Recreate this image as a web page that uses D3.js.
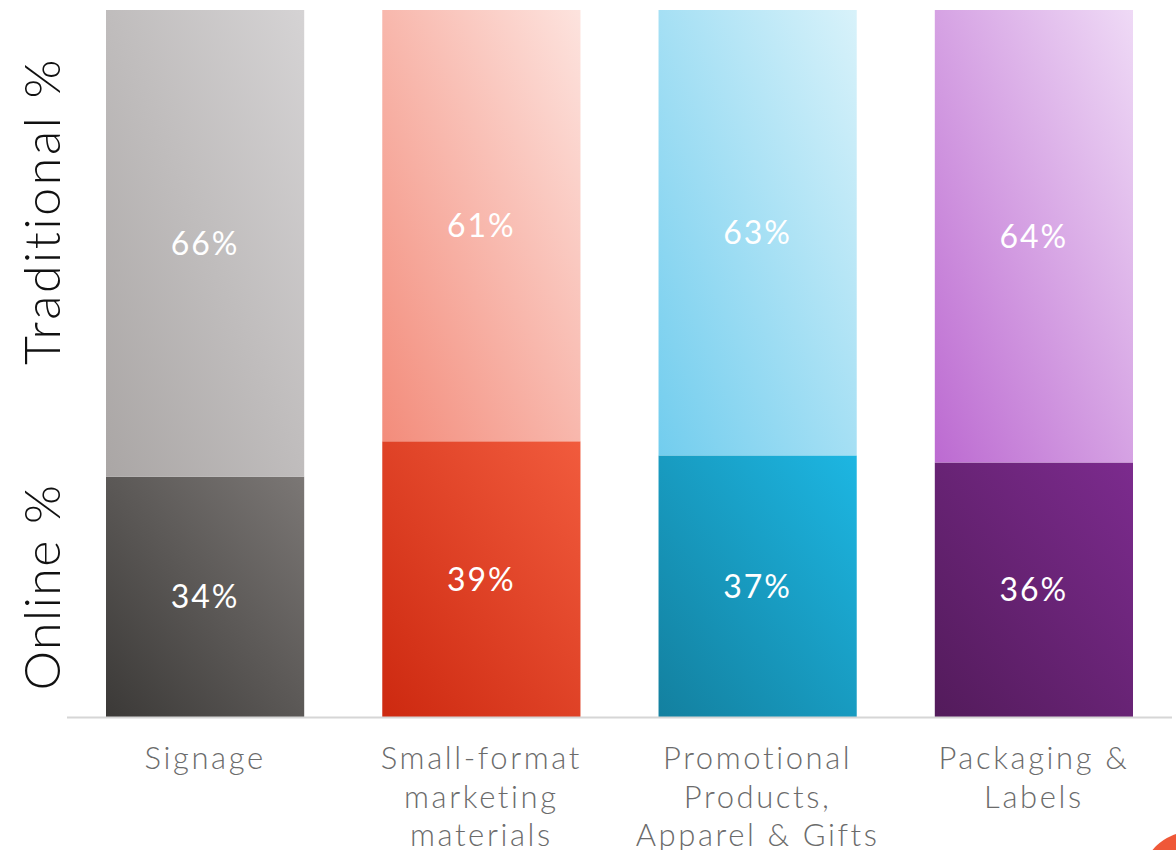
<!DOCTYPE html>
<html lang='en'>
<head>
  <meta charset='UTF-8'>
  <title>Online vs Traditional</title>
  <script src='https://d3js.org/d3.v7.min.js'></script>
  <style>
    body { margin: 0; background: #fff; }
    svg { display: block; font-family: 'Lato', 'Open Sans', sans-serif; }
  </style>
</head>
<body>
<svg width='1176' height='850'></svg>
<script>
  // data
  const categories = ['Signage', 'Small-format', 'Promotional', 'Packaging']
  const categoryLines = [
    ['Signage'],
    ['Small-format', 'marketing', 'materials'],
    ['Promotional', 'Products,', 'Apparel & Gifts'],
    ['Packaging &', 'Labels']
  ]
  const online = [34, 39, 37, 36]
  const traditional = [66, 61, 63, 64]
  const seriesNames = ['Online %', 'Traditional %']

  // gradient stops: [bottom-left, top-right]
  const onlineColors = [['#3b3937', '#7b7775'], ['#cd2910', '#f15b3d'], ['#13809f', '#1db6e2'], ['#531b5b', '#7c2b8e']]
  const tradColors = [['#aaa6a5', '#d5d3d4'], ['#f38c7b', '#fde3de'], ['#72cdee', '#d8f2fa'], ['#bc6ad1', '#efdaf6']]

  const svg = d3.select('svg')
  const defs = svg.append('defs')

  const x = d3.scaleBand().domain(categories).range([106, 1133]).paddingInner(0.2826).paddingOuter(0)
  const y = d3.scaleLinear().domain([0, 100]).range([717, 10])

  function grad(id, cols) {
    let g = defs.append('linearGradient').attr('id', id)
      .attr('x1', 0).attr('y1', 1).attr('x2', 1).attr('y2', 0)
    g.append('stop').attr('offset', '0%').attr('stop-color', cols[0])
    g.append('stop').attr('offset', '100%').attr('stop-color', cols[1])
  }
  categories.forEach((c, i) => {
    grad('on' + i, onlineColors[i])
    grad('tr' + i, tradColors[i])
  })

  let rows = categories.map((c, i) => ({ cat: c, i: i, on: online[i], tr: traditional[i], lines: categoryLines[i] }))

  let barG = svg.append('g').selectAll('g').data(rows).enter().append('g')

  // online segment (bottom)
  barG.append('rect')
    .attr('x', d => x(d.cat))
    .attr('width', x.bandwidth())
    .attr('y', d => y(d.on))
    .attr('height', d => y(0) - y(d.on))
    .attr('fill', d => `url(#on${d.i})`)

  // traditional segment (top)
  barG.append('rect')
    .attr('x', d => x(d.cat))
    .attr('width', x.bandwidth())
    .attr('y', d => y(d.on + d.tr))
    .attr('height', d => y(d.on) - y(d.on + d.tr))
    .attr('fill', d => `url(#tr${d.i})`)

  // value labels, centred in each segment
  function valueLabel(yPos, val) {
    barG.append('text')
      .attr('x', d => x(d.cat) + x.bandwidth() / 2)
      .attr('y', yPos)
      .attr('dy', '0.36em')
      .attr('text-anchor', 'middle')
      .attr('fill', '#fff').attr('font-size', 32).attr('font-weight', 400)
      .attr('letter-spacing', 2)
      .text(d => val(d) + '%')
  }
  valueLabel(d => (y(0) + y(d.on)) / 2, d => d.on)
  valueLabel(d => (y(d.on) + y(d.on + d.tr)) / 2, d => d.tr)

  // baseline
  svg.append('line')
    .attr('x1', 67).attr('x2', 1172)
    .attr('y1', y(0) + 0.5).attr('y2', y(0) + 0.5)
    .attr('stroke', '#d6d6d6').attr('stroke-width', 2)

  // category labels
  barG.append('text')
    .attr('text-anchor', 'middle')
    .attr('fill', '#6b6b6b').attr('font-size', 31).attr('font-weight', 300)
    .attr('letter-spacing', 2.6)
    .selectAll('tspan').data(d => d.lines.map(l => ({ l: l, cx: x(d.cat) + x.bandwidth() / 2 })))
    .enter().append('tspan')
      .attr('x', d => d.cx)
      .attr('y', (d, j) => 769 + j * 38.5)
      .text(d => d.l)

  // rotated series labels
  svg.append('text')
    .attr('transform', 'translate(60,587) rotate(-90)')
    .attr('text-anchor', 'middle')
    .attr('font-size', 50).attr('font-weight', 300).attr('fill', '#111')
    .attr('letter-spacing', 1.5)
    .text(seriesNames[0])

  svg.append('text')
    .attr('transform', 'translate(60,211) rotate(-90)')
    .attr('text-anchor', 'middle')
    .attr('font-size', 50).attr('font-weight', 300).attr('fill', '#111')
    .attr('letter-spacing', 2.6)
    .text(seriesNames[1])

  // corner decoration
  svg.append('circle')
    .attr('cx', 1190).attr('cy', 880).attr('r', 48)
    .attr('fill', '#ef5838')
</script>
</body>
</html>
